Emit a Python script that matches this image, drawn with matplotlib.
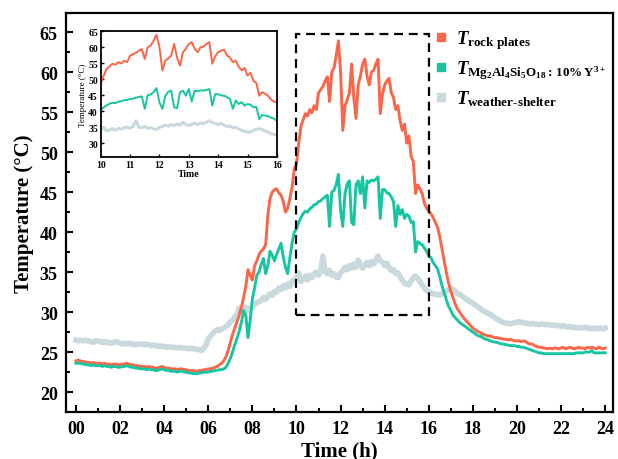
import numpy as np
import matplotlib.pyplot as plt
from matplotlib.lines import Line2D
from matplotlib.patches import Rectangle

plt.rcParams['font.family'] = ['Liberation Serif', 'DejaVu Serif']
plt.rcParams['font.weight'] = 'bold'
plt.rcParams['mathtext.fontset'] = 'custom'
plt.rcParams['mathtext.rm'] = 'Liberation Serif:bold'
plt.rcParams['mathtext.it'] = 'Liberation Serif:italic:bold'
plt.rcParams['mathtext.bf'] = 'Liberation Serif:bold'

# время в часах, шаг 0.1 ч
hours = np.round(np.arange(0, 24.01, 0.1), 1)

t_rock = [
    23.9, 24.0, 23.9, 23.8, 23.8, 23.7, 23.7, 23.6, 23.7, 23.6,
    23.6, 23.6, 23.5, 23.6, 23.5, 23.5, 23.4, 23.5, 23.5, 23.4,
    23.4, 23.5, 23.5, 23.6, 23.5, 23.4, 23.4, 23.3, 23.3, 23.2,
    23.2, 23.2, 23.1, 23.2, 23.1, 23.1, 23.0, 23.0, 23.1, 23.2,
    23.1, 23.0, 23.0, 22.9, 22.9, 22.9, 22.8, 22.9, 22.9, 22.8,
    22.8, 22.7, 22.7, 22.7, 22.6, 22.6, 22.7, 22.7, 22.8, 22.8,
    22.9, 22.9, 23.0, 23.1, 23.2, 23.4, 23.6, 23.9, 24.4, 25.2,
    26.2, 27.2, 28.0, 28.8, 29.6, 30.6, 31.8, 33.2, 35.3, 34.6,
    34.0, 35.8, 36.4, 37.2, 37.6, 37.9, 38.4, 42.1, 44.2, 45.0,
    45.3, 45.4, 44.9, 44.6, 43.8, 42.5, 43.0, 44.2, 45.6, 47.9,
    48.5, 51.1, 53.2, 54.0, 54.8, 54.5, 55.3, 54.9, 55.8, 55.3,
    57.4, 57.8, 58.2, 58.9, 59.4, 56.3, 60.0, 60.5, 62.0, 63.9,
    60.0, 52.7, 55.8, 56.5, 57.4, 61.0, 56.8, 54.2, 58.4, 59.5,
    61.0, 61.6, 59.5, 58.4, 60.0, 60.2, 61.0, 61.6, 54.8, 57.2,
    58.4, 58.9, 59.2, 57.4, 56.8, 55.3, 55.8, 53.9, 52.7, 53.5,
    51.1, 52.0, 49.5, 48.8, 44.8, 45.9, 45.4, 44.8, 43.6, 43.0,
    42.6, 42.3, 41.8, 41.2, 40.6, 39.4, 37.9, 36.4, 34.9, 33.6,
    32.6, 31.8, 31.0, 30.4, 30.0, 29.6, 29.2, 28.9, 28.6, 28.3,
    28.0, 27.8, 27.6, 27.5, 27.3, 27.2, 27.1, 27.0, 27.0, 26.9,
    26.8, 26.8, 26.7, 26.7, 26.6, 26.6, 26.5, 26.6, 26.5, 26.4,
    26.4, 26.4, 26.3, 26.4, 26.3, 26.1, 26.0, 26.0, 25.8, 25.7,
    25.6, 25.6, 25.5, 25.5, 25.4, 25.5, 25.4, 25.5, 25.5, 25.4,
    25.5, 25.6, 25.4, 25.5, 25.6, 25.5, 25.4, 25.5, 25.6, 25.5,
    25.5, 25.4, 25.6, 25.5, 25.6, 25.5, 25.4, 25.6, 25.5, 25.4,
    25.5,
]

t_coating = [
    23.6, 23.6, 23.6, 23.5, 23.5, 23.4, 23.4, 23.3, 23.4, 23.3,
    23.3, 23.3, 23.2, 23.3, 23.2, 23.2, 23.1, 23.2, 23.2, 23.1,
    23.1, 23.2, 23.2, 23.3, 23.2, 23.1, 23.1, 23.0, 23.0, 22.9,
    22.9, 22.9, 22.8, 22.9, 22.8, 22.8, 22.7, 22.7, 22.8, 22.9,
    22.8, 22.7, 22.7, 22.6, 22.6, 22.6, 22.5, 22.6, 22.6, 22.5,
    22.5, 22.4, 22.4, 22.3, 22.3, 22.3, 22.4, 22.4, 22.5, 22.5,
    22.5, 22.6, 22.6, 22.7, 22.7, 22.8, 22.8, 22.9, 23.1, 23.6,
    24.2, 25.0, 25.9, 26.7, 27.6, 28.7, 30.2, 29.6, 26.8, 29.0,
    31.7, 33.0, 34.6, 35.0, 36.0, 36.7, 34.8, 35.8, 37.6, 37.1,
    36.4, 37.2, 37.9, 38.6, 36.9, 35.6, 34.8, 36.8, 38.6, 40.0,
    40.4, 41.2, 41.8, 42.3, 42.6, 42.5, 42.9, 43.1, 43.4, 43.5,
    43.8, 43.9, 44.2, 44.4, 44.6, 40.7, 45.0, 45.2, 45.9, 47.2,
    42.7, 40.7, 44.8, 46.0, 46.4, 41.2, 40.9, 45.9, 46.4, 44.8,
    46.9, 43.0, 46.4, 46.2, 46.5, 46.4, 46.6, 46.9, 41.7, 45.3,
    45.3, 44.9, 44.8, 44.4, 43.8, 40.7, 43.3, 42.2, 42.8, 41.7,
    42.2, 42.0, 41.2, 41.3, 37.5, 38.8, 38.6, 38.4, 38.0, 37.6,
    37.0, 36.8, 36.2, 35.8, 35.4, 34.4, 33.3, 32.4, 31.5, 30.7,
    30.2, 29.6, 29.3, 29.0, 28.7, 28.5, 28.3, 28.1, 27.9, 27.7,
    27.5, 27.3, 27.1, 27.0, 26.9, 26.7, 26.6, 26.5, 26.4, 26.3,
    26.25, 26.2, 26.1, 26.0, 26.0, 25.9, 25.9, 25.8, 25.8, 25.8,
    25.7, 25.7, 25.6, 25.6, 25.5, 25.4, 25.3, 25.2, 25.1, 25.0,
    24.9, 24.9, 24.8, 24.8, 24.8, 24.8, 24.8, 24.8, 24.8, 24.8,
    24.8, 24.8, 24.8, 24.8, 24.8, 24.8, 24.8, 24.9, 24.9, 24.9,
    24.9, 25.0, 25.0, 25.0, 25.2, 24.9, 24.9, 24.9, 24.9, 24.9,
    24.9,
]

t_shelter = [
    26.5, 26.4, 26.5, 26.4, 26.5, 26.4, 26.4, 26.3, 26.2, 26.4,
    26.4, 26.3, 26.2, 26.3, 26.2, 26.2, 26.1, 26.2, 26.3, 26.2,
    26.1, 26.0, 26.1, 26.0, 26.1, 26.0, 26.0, 25.9, 26.0, 26.0,
    26.0, 25.9, 26.0, 25.9, 25.8, 25.9, 25.8, 25.7, 25.8, 25.7,
    25.7, 25.6, 25.7, 25.6, 25.6, 25.6, 25.5, 25.6, 25.5, 25.5,
    25.5, 25.4, 25.5, 25.4, 25.4, 25.3, 25.3, 25.2, 25.5, 25.9,
    26.7, 27.0, 27.3, 27.6, 27.8, 27.7, 27.9, 28.0, 28.2, 28.4,
    28.8, 29.0, 29.4, 29.7, 30.5, 30.3, 30.1, 30.6, 30.2, 30.4,
    30.6, 31.0, 31.2, 31.3, 31.5, 31.8, 31.6, 32.0, 32.3, 32.1,
    32.6, 32.5, 33.0, 32.8, 33.3, 33.0, 33.5, 33.2, 33.9, 34.0,
    34.2, 34.9, 33.8, 34.1, 34.5, 34.0, 34.6, 34.3, 34.8, 35.0,
    34.6, 35.2, 37.0, 35.0, 34.8, 35.2, 34.6, 34.8, 34.4, 34.3,
    34.9, 35.2, 35.6, 35.3, 35.8, 35.5, 36.0, 35.6, 36.5, 35.8,
    35.5, 35.9, 36.2, 35.8, 36.3, 36.0, 36.5, 37.0, 36.4, 36.2,
    35.8, 36.1, 35.6, 35.2, 35.3, 34.8, 34.9, 34.4, 34.0, 33.6,
    33.5, 33.4, 33.9, 34.3, 34.5, 34.2, 33.8, 33.4, 33.0, 32.7,
    32.6, 32.4, 32.3, 32.2, 32.2, 32.1, 32.3, 32.5, 32.6, 32.8,
    33.0, 32.8, 32.6, 32.3, 32.2, 32.0, 31.8, 31.6, 31.4, 31.3,
    31.1, 30.9, 30.7, 30.5, 30.3, 30.1, 30.0, 29.8, 29.7, 29.5,
    29.3, 29.1, 29.0, 28.8, 28.7, 28.6, 28.6, 28.5, 28.6, 28.7,
    28.7, 28.8, 28.7, 28.7, 28.6, 28.6, 28.5, 28.6, 28.5, 28.5,
    28.4, 28.5, 28.5, 28.4, 28.5, 28.4, 28.3, 28.4, 28.3, 28.3,
    28.2, 28.3, 28.2, 28.1, 28.2, 28.1, 28.1, 28.0, 28.1, 28.0,
    28.0, 28.1, 28.0, 27.9, 28.0, 27.9, 28.0, 27.9, 28.0, 27.9,
    28.0,
]

hour_ticks = list(range(0, 25, 2))
hour_labels = ['%02d' % h for h in hour_ticks]

c_rock = '#FD6548'
c_coat = '#17C5A0'
c_shelter = '#C9D9DD'

labels = [
    r'$\mathit{T}_{\mathrm{rock\ plates}}$',
    r'$\mathit{T}_{\mathrm{Mg_{2}Al_{4}Si_{5}O_{18}:}\,\mathrm{10\%}\,\mathrm{Y^{3+}}}$',
    r'$\mathit{T}_{\mathrm{weather}\text{-}\mathrm{shelter}}$',
]

fig = plt.figure(figsize=(6.18, 4.6), dpi=100)
ax = fig.add_axes([0.107, 0.102, 0.885, 0.868])

ax.plot(hours, t_shelter, color=c_shelter, lw=4.0, zorder=2)
ax.plot(hours, t_coating, color=c_coat, lw=2.1, zorder=3)
ax.plot(hours, t_rock, color=c_rock, lw=2.1, zorder=2.5)

ax.set_xlim(-0.45, 24.36)
ax.set_ylim(17.5, 67.4)
ax.set_xticks(hour_ticks)
ax.set_xticklabels(hour_labels)
ax.set_xticks(range(1, 24, 2), minor=True)
ax.set_yticks(range(20, 66, 5))
ax.set_yticks(np.arange(22.5, 66, 5), minor=True)
ax.tick_params(which='both', direction='in', width=1.5, labelsize=13, pad=6)
ax.tick_params(which='major', length=5)
ax.tick_params(which='minor', length=3)
for s in ax.spines.values():
    s.set_linewidth(1.6)

ax.set_xlabel('Time (h)', fontsize=15, fontweight='bold', labelpad=2)
ax.set_ylabel('Temperature (°C)', fontsize=15, fontweight='bold', labelpad=4)

# зона, показанная на вставке
ax.add_patch(Rectangle((10, 29.6), 6, 35.1, fill=False, ec='black',
                       lw=1.6, ls=(0, (4, 2.6)), zorder=4))

handles = [Line2D([], [], ls='none', marker='s', ms=5.5, color=c)
           for c in (c_rock, c_coat, c_shelter)]
ax.legend(handles, labels, loc='upper left', bbox_to_anchor=(0.648, 0.995),
          frameon=False, fontsize=13.5, handlelength=0.8, handletextpad=0.4,
          labelspacing=0.4, borderaxespad=0.3)

# вставка 10-16 ч
ins = fig.add_axes([0.163, 0.657, 0.285, 0.273])
ins.plot(hours, t_shelter, color=c_shelter, lw=2.2)
ins.plot(hours, t_coating, color=c_coat, lw=1.4)
ins.plot(hours, t_rock, color=c_rock, lw=1.4)
ins.set_xlim(10, 16)
ins.set_ylim(25.7, 65)
ins.set_xticks(range(10, 17))
ins.set_yticks(range(30, 66, 5))
ins.tick_params(direction='in', labelsize=7, length=2.5, width=1, pad=2)
for s in ins.spines.values():
    s.set_linewidth(1.3)
ins.set_xlabel('Time', fontsize=7, fontweight='bold', labelpad=0)
ins.set_ylabel('Temperature (°C)', fontsize=6.5, fontweight='normal', labelpad=1)

fig.savefig('out.png', dpi=100)
